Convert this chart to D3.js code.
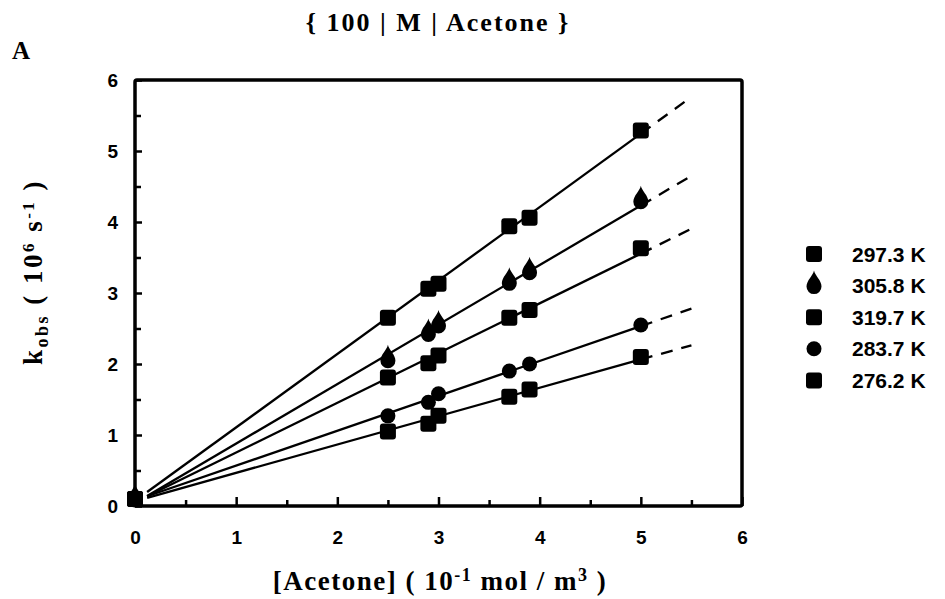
<!DOCTYPE html>
<html>
<head>
<meta charset="utf-8">
<script src="https://cdn.jsdelivr.net/npm/d3@7"></script>
<style>
  body { margin: 0; background: #fff; }
  svg { display: block; }
  .tick text { font-family: "Liberation Sans", Arial, sans-serif; font-weight: bold; font-size: 19px; fill: #000; }
</style>
</head>
<body>
<svg id="chart" width="945" height="599"></svg>
<script>
// [Acetone] in 10^-1 mol/m^3
var acetone = [0, 2.5, 2.9, 3.0, 3.7, 3.9, 5.0];

// k_obs in 10^6 s^-1, one array per temperature
var k297 = [0.1, 2.65, 3.06, 3.13, 3.94, 4.06, 5.29];
var k305 = [0.1, 2.06, 2.43, 2.55, 3.15, 3.3, 4.3];
var k319 = [0.1, 1.81, 2.01, 2.12, 2.65, 2.76, 3.63];
var k283 = [0.1, 1.27, 1.46, 1.58, 1.9, 2.0, 2.55];
var k276 = [0.1, 1.05, 1.16, 1.27, 1.54, 1.64, 2.1];

var seriesNames = ["297.3 K", "305.8 K", "319.7 K", "283.7 K", "276.2 K"];
var seriesShapes = ["square", "drop", "square", "circle", "square"];

var xTicks = [0, 1, 2, 3, 4, 5, 6];
var yTicks = [0, 1, 2, 3, 4, 5, 6];

var allSeries = [k297, k305, k319, k283, k276].map(function(vals, i) {
  return {
    name: seriesNames[i],
    shape: seriesShapes[i],
    points: acetone.map(function(a, j) { return { x: a, y: vals[j] }; })
  };
});

var svg = d3.select("#chart");

var x = d3.scaleLinear().domain([0, 6]).range([135, 742]);
var y = d3.scaleLinear().domain([0, 6]).range([506, 80]);

// least squares line for each series
function fit(points) {
  var mx = d3.mean(points, function(p) { return p.x; });
  var my = d3.mean(points, function(p) { return p.y; });
  var sxy = d3.sum(points, function(p) { return (p.x - mx) * (p.y - my); });
  var sxx = d3.sum(points, function(p) { return (p.x - mx) * (p.x - mx); });
  var b = sxy / sxx;
  return { a: my - b * mx, b: b };
}

// frame
svg.append("rect")
  .attr("x", x(0)).attr("y", y(6))
  .attr("width", x(6) - x(0)).attr("height", y(0) - y(6))
  .attr("rx", 2)
  .attr("fill", "none").attr("stroke", "#000").attr("stroke-width", 3.5);

// ticks point inward
svg.append("g")
  .attr("transform", "translate(0," + y(0) + ")")
  .call(d3.axisBottom(x).tickValues(xTicks).tickSizeInner(-9).tickSizeOuter(0).tickPadding(25).tickFormat(d3.format("d")));
svg.append("g")
  .attr("transform", "translate(0," + y(0) + ")")
  .call(d3.axisBottom(x).tickValues(d3.range(0.5, 6, 1)).tickSizeInner(-6).tickSizeOuter(0).tickFormat(""));

svg.append("g")
  .attr("transform", "translate(" + x(0) + ",0)")
  .call(d3.axisLeft(y).tickValues(yTicks).tickSizeInner(-7).tickSizeOuter(0).tickPadding(17).tickFormat(d3.format("d")));
svg.append("g")
  .attr("transform", "translate(" + x(0) + ",0)")
  .call(d3.axisLeft(y).tickValues(d3.range(0.5, 6, 1)).tickSizeInner(-6).tickSizeOuter(0).tickFormat(""));

svg.selectAll(".domain").remove();
svg.selectAll(".tick line").attr("stroke", "#000").attr("stroke-width", 2.5);

// fitted lines: solid over the data, dashed beyond the last point
allSeries.forEach(function(s) {
  var f = fit(s.points);
  var line = d3.line()
    .x(function(d) { return x(d); })
    .y(function(d) { return y(f.a + f.b * d); });
  svg.append("path")
    .attr("d", line([0.12, 5.0]))
    .attr("fill", "none").attr("stroke", "#000").attr("stroke-width", 2.3);
  svg.append("path")
    .attr("d", line([5.0, 5.5]))
    .attr("fill", "none").attr("stroke", "#000").attr("stroke-width", 2.3)
    .attr("stroke-dasharray", "12,9");
});

// marker shapes
function marker(g, shape) {
  if (shape === "square") {
    g.append("rect").attr("x", -8).attr("y", -8).attr("width", 16).attr("height", 16).attr("rx", 3);
  } else if (shape === "circle") {
    g.append("circle").attr("r", 7.5);
  } else {
    g.append("path").attr("d", "M0,-15 C1,-10 7.5,-5 7.5,1 A7.5,7.5 0 1,1 -7.5,1 C-7.5,-5 -1,-10 0,-15 Z");
  }
}

allSeries.forEach(function(s) {
  svg.append("g").selectAll("g")
    .data(s.points)
    .enter().append("g")
    .attr("transform", function(d) { return "translate(" + x(d.x) + "," + y(d.y) + ")"; })
    .each(function() { marker(d3.select(this).attr("fill", "#000"), s.shape); });
});

// legend
var legend = svg.append("g").selectAll("g")
  .data(allSeries)
  .enter().append("g")
  .attr("transform", function(d, i) { return "translate(814," + (254 + i * 31.6) + ")"; });
legend.each(function(d) { marker(d3.select(this).attr("fill", "#000"), d.shape); });
legend.append("text")
  .attr("x", 38).attr("dy", "0.36em")
  .style("font-family", "Liberation Sans, Arial, sans-serif")
  .style("font-weight", "bold").style("font-size", "21px")
  .text(function(d) { return d.name; });

// title and panel letter
svg.append("text")
  .attr("x", 438).attr("y", 31).attr("text-anchor", "middle")
  .style("font-family", "Liberation Serif, serif").style("font-weight", "bold").style("font-size", "26px")
  .style("letter-spacing", "2px")
  .text("{ 100 | M | Acetone }");
svg.append("text")
  .attr("x", 12).attr("y", 59)
  .style("font-family", "Liberation Serif, serif").style("font-weight", "bold").style("font-size", "25px")
  .text("A");

// axis titles
var xt = svg.append("text")
  .attr("x", 440).attr("y", 590).attr("text-anchor", "middle")
  .style("font-family", "Liberation Serif, serif").style("font-weight", "bold").style("font-size", "27px")
  .style("letter-spacing", "1.5px");
xt.append("tspan").text("[Acetone] ( 10");
xt.append("tspan").attr("dy", -9).style("font-size", "18px").text("-1");
xt.append("tspan").attr("dy", 9).text(" mol / m");
xt.append("tspan").attr("dy", -9).style("font-size", "18px").text("3");
xt.append("tspan").attr("dy", 9).text(" )");

var yt = svg.append("text")
  .attr("transform", "translate(42,272) rotate(-90)").attr("text-anchor", "middle")
  .style("font-family", "Liberation Serif, serif").style("font-weight", "bold").style("font-size", "27px")
  .style("letter-spacing", "2.5px");
yt.append("tspan").text("k");
yt.append("tspan").attr("dy", 6).style("font-size", "18px").text("obs");
yt.append("tspan").attr("dy", -6).text(" ( 10");
yt.append("tspan").attr("dy", -8).style("font-size", "17px").text("6");
yt.append("tspan").attr("dy", 8).text(" s");
yt.append("tspan").attr("dy", -8).style("font-size", "17px").text("-1");
yt.append("tspan").attr("dy", 8).text(" )");
</script>
</body>
</html>
